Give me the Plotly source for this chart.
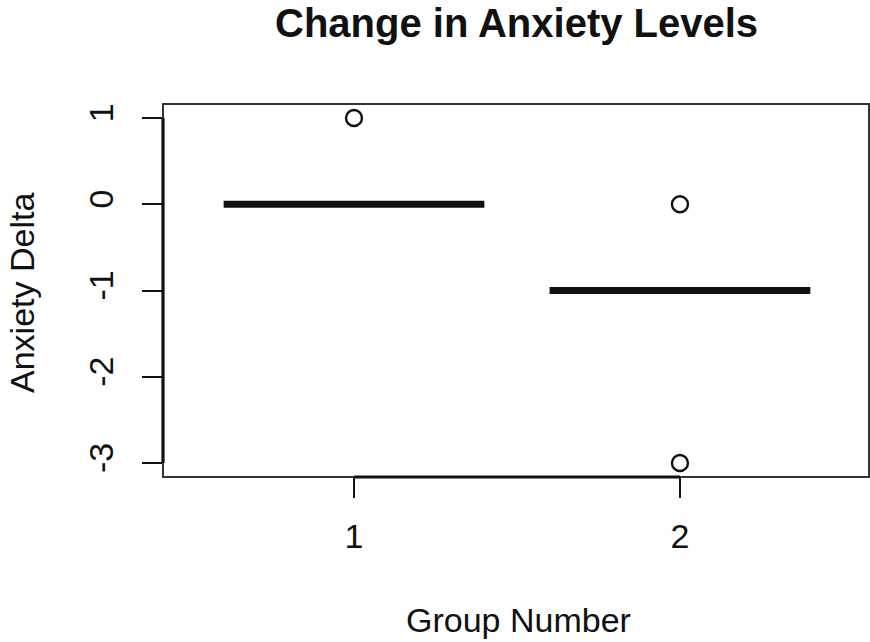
import plotly.graph_objects as go

# ---- data ----
groups = [1, 2]
group_labels = ["1", "2"]
medians = [0, -1]
outlier_groups = [1, 2, 2]
outlier_values = [1, 0, -3]
y_ticks = [-3, -2, -1, 0, 1]
y_tick_labels = ["-3", "-2", "-1", "0", "1"]

title_text = "Change in Anxiety Levels"
x_title = "Group Number"
y_title = "Anxiety Delta"

FONT = "Liberation Sans, Arial, Helvetica, sans-serif"
INK = "#111111"
half_w = 0.4

fig = go.Figure()

# median lines (degenerate boxes)
for g, m in zip(groups, medians):
    fig.add_trace(go.Scatter(
        x=[g - half_w, g + half_w], y=[m, m], mode="lines",
        line=dict(color=INK, width=7), hoverinfo="skip", showlegend=False))

# outliers
fig.add_trace(go.Scatter(
    x=outlier_groups, y=outlier_values, mode="markers",
    marker=dict(symbol="circle-open", size=16, color=INK, line=dict(width=2.4, color=INK)),
    showlegend=False))

W, H = 870, 642
# plot area in page pixels: x 163..869, y 104..477
L, R, T, B = 163, 870 - 869, 104, 642 - 477

fig.update_layout(
    width=W, height=H,
    margin=dict(l=L, r=R, t=T, b=B, pad=0),
    paper_bgcolor="white", plot_bgcolor="white",
    font=dict(family=FONT, size=34, color=INK),
    showlegend=False,
)

fig.update_xaxes(
    range=[0.414, 2.58], tickvals=groups, ticktext=group_labels,
    showgrid=False, zeroline=False, showline=False,
    ticks="outside", ticklen=20, tickwidth=2.2, tickcolor=INK,
    ticklabelstandoff=9,
    tickfont=dict(family=FONT, size=34, color=INK),
)
fig.update_yaxes(
    range=[-3.162, 1.162], tickvals=y_ticks, ticktext=y_tick_labels,
    showgrid=False, zeroline=False, showline=False,
    ticks="outside", ticklen=20, tickwidth=2.2, tickcolor=INK,
    tickangle=-90, ticklabelstandoff=15,
    tickfont=dict(family=FONT, size=34, color=INK),
)

# box around plot region
fig.add_shape(type="rect", xref="paper", yref="paper", x0=0, y0=0, x1=1, y1=1,
              line=dict(color="#333333", width=2))
# axis lines from first to last tick
fig.add_shape(type="line", xref="x", yref="paper", x0=groups[0], x1=groups[-1], y0=0, y1=0,
              line=dict(color=INK, width=3.2))
fig.add_shape(type="line", xref="paper", yref="y", x0=0, x1=0, y0=y_ticks[0], y1=y_ticks[-1],
              line=dict(color=INK, width=3.2))

pw, ph = W - L - R, H - T - B

def px_x(x):
    return (x - L) / pw

def px_y(y):
    return (H - B - y) / ph

fig.add_annotation(text="<b>" + title_text + "</b>", xref="paper", yref="paper",
                   x=px_x(516), y=px_y(-1), xanchor="center", yanchor="top",
                   showarrow=False, font=dict(family=FONT, size=40, color=INK))
fig.add_annotation(text=x_title, xref="paper", yref="paper",
                   x=px_x(518), y=px_y(620), xanchor="center", yanchor="middle",
                   showarrow=False, font=dict(family=FONT, size=34, color=INK))
fig.add_annotation(text=y_title, xref="paper", yref="paper",
                   x=px_x(1), y=px_y(293), xanchor="left", yanchor="middle",
                   textangle=-90, showarrow=False, font=dict(family=FONT, size=34, color=INK))

fig.write_html(
    "out.html",
    config={"displayModeBar": False},
    post_script="document.body.style.margin='0px';document.body.style.overflow='hidden';",
)
